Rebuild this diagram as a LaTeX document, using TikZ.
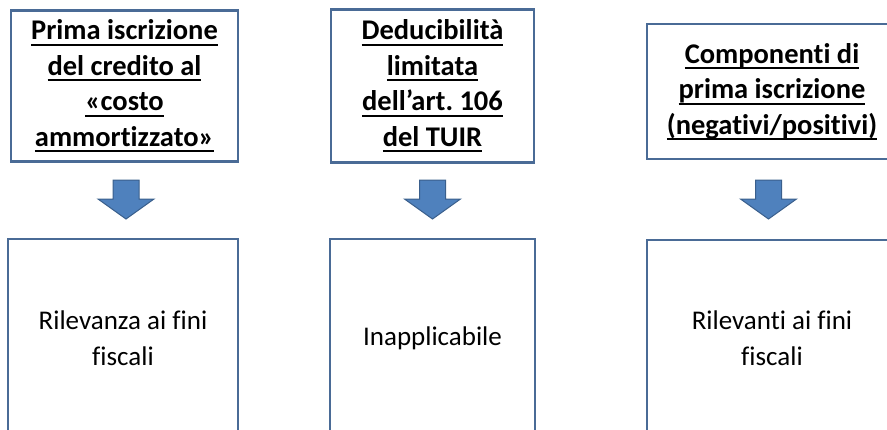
\documentclass[tikz,border=0pt]{standalone}
\usepackage{fontspec}
\setmainfont[Ligatures=NoCommon]{Carlito}
\frenchspacing
\newcommand\myul[1]{\setbox0\hbox{#1}\rlap{\copy0}\rule[-6pt]{\wd0}{1.8pt}}
\definecolor{boxblue}{HTML}{4A6B96}
\definecolor{arrfill}{HTML}{4F81BD}
\definecolor{arrline}{HTML}{3A5F8C}
\begin{document}
\begin{tikzpicture}[x=1pt,y=-1pt,
  topbox/.style={draw=boxblue,line width=2.4pt,align=center,inner sep=0pt,
    font=\fontsize{28.5}{35.5}\selectfont\bfseries},
  botbox/.style={draw=boxblue,line width=2.4pt,align=center,inner sep=0pt,
    font=\fontsize{27}{36}\selectfont},
  blockarrow/.style={fill=arrfill,draw=arrline,line width=1pt,line join=miter}]
\useasboundingbox (0,0) rectangle (887,429);
\clip (0,0) rectangle (887,429);
% top boxes
\node[topbox,minimum width=227,minimum height=151] (t1) at (124.5,86)
  {\myul{Prima iscrizione}\\\myul{del credito al}\\\myul{«costo}\\\myul{ammortizzato»}};
\node[topbox,minimum width=203,minimum height=153] (t2) at (432.5,86)
  {\myul{Deducibilità}\\\myul{limitata}\\\myul{dell’art. 106}\\\myul{del TUIR}};
\node[topbox,minimum width=250,minimum height=135] (t3) at (772,91.5)
  {\myul{Componenti di}\\\myul{prima iscrizione}\\\myul{(negativi/positivi)}};
% bottom boxes
\node[botbox,minimum width=230,minimum height=198] (b1) at (123,338)
  {Rilevanza ai fini\\fiscali};
\node[botbox,minimum width=205,minimum height=198] (b2) at (432.5,338)
  {Inapplicabile};
\node[botbox,minimum width=250,minimum height=197] (b3) at (772,338.5)
  {Rilevanti ai fini\\fiscali};
% block arrows
\coordinate (a1) at (126,180);
\coordinate (a2) at (432.5,180);
\coordinate (a3) at (768.5,180);
\foreach \a in {a1,a2,a3}{
  \draw[blockarrow] (\a) ++(-13,0) -- ++(26,0) -- ++(0,19) -- ++(15,0)
    -- ++(-28,20) -- ++(-28,-20) -- ++(15,0) -- cycle;
}
\end{tikzpicture}
\end{document}
